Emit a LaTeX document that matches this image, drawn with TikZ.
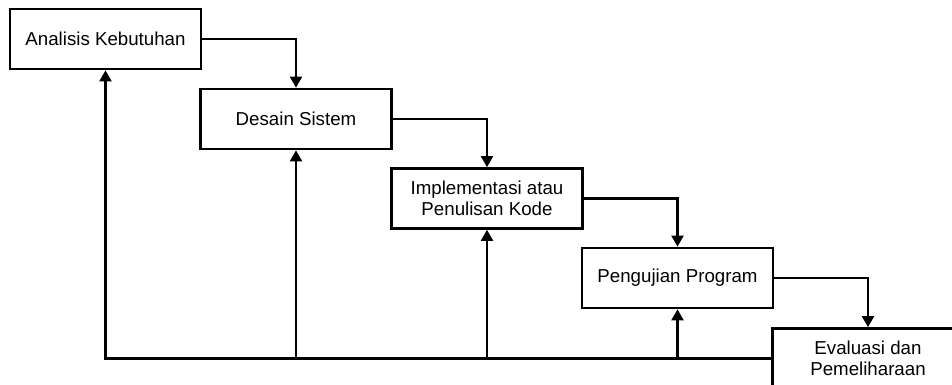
\documentclass[tikz,border=0pt]{standalone}
\usepackage{fontspec}
\setmainfont{Liberation Sans}
\usetikzlibrary{arrows.meta,positioning}
\begin{document}
\begin{tikzpicture}[
      x=0.025cm, y=-0.025cm,
      tahap/.style={draw, line width=1.8pt, minimum width=4.775cm,
      minimum height=1.5cm, inner sep=0pt, align=center,
      font=\fontsize{13.3}{15}\selectfont},
      alur/.style={line width=1.8pt, -{Triangle[width=3mm,length=2.8mm]}},
    ]
    \useasboundingbox (0,0) rectangle (952,385);
    \clip (0,0) rectangle (952,385);
    \node[tahap] (analisis) at (105.5,39) {Analisis Kebutuhan};
    \node[tahap] (desain) at (296,119) {Desain Sistem};
    \node[tahap] (implementasi) at (487,198.5) {Implementasi atau\\Penulisan Kode};
    \node[tahap] (pengujian) at (677.5,278) {Pengujian Program};
    \node[tahap] (evaluasi) at (868,358.5) {Evaluasi dan\\Pemeliharaan};
    \draw[alur] (analisis.east) -| (desain.north);
    \draw[alur] (desain.east) -| (implementasi.north);
    \draw[alur] (implementasi.east) -| (pengujian.north);
    \draw[alur] (pengujian.east) -| (evaluasi.north);
    \draw[alur] (evaluasi.west) -| (analisis.south);
    \draw[alur] (desain.south |- evaluasi.west) -- (desain.south);
    \draw[alur] (implementasi.south |- evaluasi.west) -- (implementasi.south);
    \draw[alur] (pengujian.south |- evaluasi.west) -- (pengujian.south);
\end{tikzpicture}
\end{document}
